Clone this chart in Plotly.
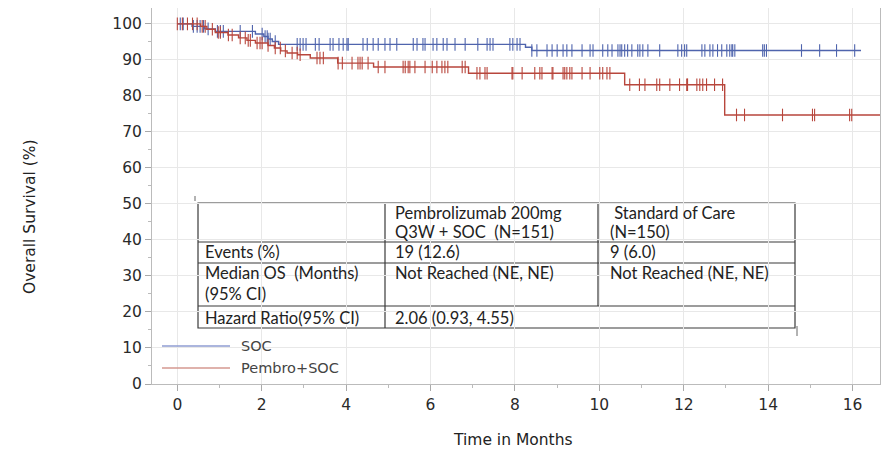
import plotly.graph_objects as go

# ---------------- data ----------------
soc_step_t = [0, 0.35, 0.65, 0.9, 1.85, 2.05, 2.15, 2.25, 2.4, 8.25, 8.4, 16.2]
soc_step_s = [100, 99.3, 98.6, 97.9, 97.2, 96.5, 95.8, 95.1, 94.3, 93.5, 92.6, 92.6]

pem_step_t = [0, 0.55, 0.7, 0.9, 1.2, 1.45, 1.65, 1.85, 2.15, 2.3, 2.45, 2.6, 2.85,
              3.15, 3.8, 4.65, 6.9, 10.6, 12.97, 16.69]
pem_step_s = [100, 99.3, 98.5, 97.6, 96.9, 96.1, 95.4, 94.7, 94.0, 93.3, 92.5, 91.9, 91.4,
              90.5, 89.1, 88.0, 86.3, 83.1, 74.7, 74.7]

soc_censor_t = [0.07, 0.14, 0.38, 0.47, 0.54, 0.62, 0.73, 0.95, 1.02, 1.09, 1.49, 1.78, 2.01,
                2.08, 2.13, 2.15, 2.2, 2.32, 2.84, 2.91, 2.98, 3.05, 3.27, 3.36, 3.62, 3.69,
                3.83, 3.93, 4.02, 4.05, 4.4, 4.5, 4.64, 4.76, 4.92, 5.04, 5.2, 5.59, 5.68,
                5.82, 5.87, 6.06, 6.15, 6.3, 6.39, 6.58, 6.82, 7.12, 7.34, 7.41, 7.48, 7.88,
                7.95, 8.05, 8.12, 8.4, 8.52, 8.76, 8.88, 9.0, 9.14, 9.23, 9.35, 9.59, 9.78,
                9.85, 10.08, 10.2, 10.3, 10.44, 10.49, 10.53, 10.6, 10.67, 10.77, 10.91,
                10.96, 11.03, 11.15, 11.43, 11.86, 11.95, 12.02, 12.07, 12.43, 12.5, 12.62,
                12.69, 12.8, 12.9, 13.02, 13.09, 13.14, 13.16, 13.21, 13.87, 13.91, 13.96,
                14.79, 15.22, 15.62, 16.05]

pem_censor_t = [0.0, 0.12, 0.24, 0.36, 0.47, 0.59, 0.66, 0.83, 0.97, 1.02, 1.21, 1.3, 1.49,
                1.61, 1.68, 1.73, 1.89, 1.96, 2.01, 2.15, 2.32, 2.44, 2.56, 2.72, 2.84, 2.91,
                3.31, 3.38, 3.46, 3.81, 3.91, 4.14, 4.28, 4.33, 4.38, 4.52, 4.76, 4.92, 5.35,
                5.4, 5.47, 5.51, 5.63, 5.87, 6.04, 6.15, 6.27, 6.34, 6.41, 6.75, 6.82, 7.1,
                7.17, 7.29, 7.34, 7.93, 7.95, 8.17, 8.47, 8.59, 8.64, 8.88, 8.9, 9.14, 9.18,
                9.23, 9.3, 9.35, 9.59, 9.78, 10.01, 10.08, 10.18, 10.25, 10.72, 10.95, 11.08,
                11.36, 11.43, 11.67, 11.9, 12.07, 12.09, 12.31, 12.38, 12.45, 12.54, 12.73,
                12.92, 13.25, 13.44, 14.34, 15.05, 15.1, 15.93, 15.98, 16.69]

series_names = ["SOC", "Pembro+SOC"]
x_tick_vals = [0, 2, 4, 6, 8, 10, 12, 14, 16]
y_tick_vals = [0, 10, 20, 30, 40, 50, 60, 70, 80, 90, 100]

table_header = ["", "Pembrolizumab 200mg<br>Q3W + SOC  (N=151)", " Standard of Care<br>(N=150)"]
table_rows = [
    ["Events (%)", "19 (12.6)", "9 (6.0)"],
    ["Median OS  (Months)<br>(95% CI)", "Not Reached (NE, NE)", "Not Reached (NE, NE)"],
    ["Hazard Ratio(95% CI)", "2.06 (0.93, 4.55)", ""],
]

# ---------------- styling ----------------
BLUE = "#4f64ad"
RED = "#b8463c"
W, H = 891, 449
L, R, T, B = 152, 11, 8, 65


def surv_at(ts, ss, t):
    v = ss[0]
    for ti, si in zip(ts, ss):
        if ti <= t + 1e-9:
            v = si
    return v


def px(x):
    return (x - L) / (W - L - R)


def py(y):
    return (H - B - y) / (H - T - B)


fig = go.Figure()

for ts, ss, ct, col in [(soc_step_t, soc_step_s, soc_censor_t, BLUE),
                        (pem_step_t, pem_step_s, pem_censor_t, RED)]:
    fig.add_trace(go.Scatter(x=ts, y=ss, mode="lines", line=dict(color=col, width=1.4, shape="hv"),
                             showlegend=False, hoverinfo="skip"))
    fig.add_trace(go.Scatter(x=ct, y=[surv_at(ts, ss, t) for t in ct], mode="markers",
                             marker=dict(symbol="line-ns", size=9,
                                         line=dict(color=col, width=1.1)),
                             showlegend=False, hoverinfo="skip"))

shapes = []
annotations = []

# table
tl, tr, tt, tb = 198, 795, 203, 328
c1, c2 = 385, 598
r1, r2, r3 = 242, 263, 306
TL = dict(color="#3a3a3a", width=1.2)
shapes.append(dict(type="rect", xref="paper", yref="paper", x0=px(tl), x1=px(tr), y0=py(tb), y1=py(tt),
                   fillcolor="white", line=TL, layer="between"))
for yy in (r1, r2, r3):
    shapes.append(dict(type="line", xref="paper", yref="paper", x0=px(tl), x1=px(tr), y0=py(yy), y1=py(yy),
                       line=TL, layer="between"))
shapes.append(dict(type="line", xref="paper", yref="paper", x0=px(c1), x1=px(c1), y0=py(tb), y1=py(tt),
                   line=TL, layer="between"))
shapes.append(dict(type="line", xref="paper", yref="paper", x0=px(c2), x1=px(c2), y0=py(r3), y1=py(tt),
                   line=TL, layer="between"))
# small stray strokes of the original table drawing
shapes.append(dict(type="line", xref="paper", yref="paper", x0=px(tl - 3), x1=px(tl - 3), y0=py(201), y1=py(196),
                   line=dict(color="#666", width=1), layer="between"))
shapes.append(dict(type="line", xref="paper", yref="paper", x0=px(tr + 2), x1=px(tr + 2), y0=py(336), y1=py(326),
                   line=dict(color="#666", width=1), layer="between"))
# legend background
shapes.append(dict(type="rect", xref="paper", yref="paper", x0=px(153), x1=px(340), y0=py(382), y1=py(334),
                   fillcolor="white", line=dict(width=0), layer="between"))

TF = dict(family="Lato, Open Sans, sans-serif", size=16.5, color="#222")
col_x = [203, 393, 608]
row_line_y = [[213, 232], [252], [273, 294], [318]]
all_rows = [table_header] + table_rows
for ri, row in enumerate(all_rows):
    for ci, txt in enumerate(row):
        if not txt:
            continue
        for li, part in enumerate(txt.split("<br>")):
            annotations.append(dict(xref="paper", yref="paper", x=px(col_x[ci]), y=py(row_line_y[ri][li]),
                                    text=part, showarrow=False, xanchor="left", yanchor="middle",
                                    align="left", font=TF))

# legend
LF = dict(family="DejaVu Sans, sans-serif", size=14.5, color="#444")
for name, col, yy in [(series_names[0], "#8f9dd2", 346), (series_names[1], "#d49891", 368)]:
    shapes.append(dict(type="line", xref="paper", yref="paper", x0=px(162), x1=px(230), y0=py(yy), y1=py(yy),
                       line=dict(color=col, width=1.5)))
    annotations.append(dict(xref="paper", yref="paper", x=px(239), y=py(yy), text=name, showarrow=False,
                            xanchor="left", yanchor="middle", font=LF))

# axis titles
AF = dict(family="DejaVu Sans, sans-serif", size=15.5, color="#222")
annotations.append(dict(xref="paper", yref="paper", x=px(30), y=py(217), text="Overall Survival (%)",
                        textangle=-90, showarrow=False, xanchor="center", yanchor="middle", font=AF))
annotations.append(dict(xref="paper", yref="paper", x=px(513), y=py(440), text="Time in Months",
                        showarrow=False, xanchor="center", yanchor="middle", font=AF))

TKF = dict(family="DejaVu Sans, sans-serif", size=15.5, color="#2a2a2a")
fig.update_layout(
    width=W, height=H, margin=dict(l=L, r=R, t=T, b=B),
    paper_bgcolor="white", plot_bgcolor="white",
    shapes=shapes, annotations=annotations, showlegend=False,
    xaxis=dict(range=[-0.6, 16.65], tickvals=x_tick_vals, ticks="outside", ticklen=6, tickcolor="#aaa",
               showline=True, linecolor="#bbb", linewidth=1, mirror=False,
               showgrid=True, gridcolor="#e8e8e8", gridwidth=1, zeroline=False, tickfont=TKF,
               minor=dict(dtick=1, tick0=0, ticks="outside", ticklen=3, tickcolor="#bbb", showgrid=False)),
    yaxis=dict(range=[0, 104.4], tickvals=y_tick_vals, ticks="outside", ticklen=6, tickcolor="#aaa",
               showline=True, linecolor="#bbb", linewidth=1, mirror=True,
               showgrid=True, gridcolor="#e8e8e8", gridwidth=1, zeroline=False, tickfont=TKF,
               minor=dict(dtick=5, tick0=0, ticks="outside", ticklen=3, tickcolor="#bbb", showgrid=False)),
)

fig.write_html("out.html")
